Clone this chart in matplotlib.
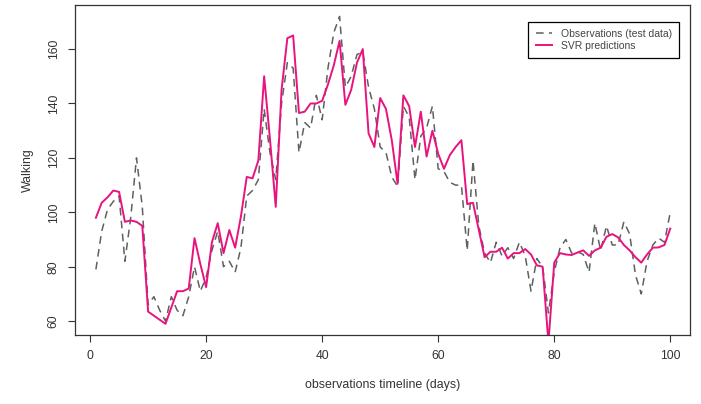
import matplotlib
matplotlib.use('Agg')
import matplotlib.pyplot as plt

plt.rcParams['font.family'] = ['Liberation Sans', 'DejaVu Sans']

days = list(range(1, 101))

observed = [79, 93, 101, 104, 106, 82, 98, 120, 102, 66,
            69, 64, 60, 69, 64, 62, 69, 80, 71, 76,
            86, 93, 80, 82, 78, 87, 106, 108, 112, 138,
            122, 112, 140, 155, 153, 122, 133, 131, 143, 134,
            153, 166, 172, 146, 150, 158, 159, 146, 138, 124,
            122, 113, 109.5, 139, 135, 112, 128, 131, 139, 116,
            115, 111, 110, 110, 86, 119, 95, 85, 81.5, 89,
            84, 87, 83, 89, 84, 71, 83, 80, 63, 78,
            87, 90, 85, 85.5, 84.5, 78, 96, 86, 95, 88,
            88, 96.5, 92, 77, 70, 82, 88, 90.5, 89, 100]

svr_pred = [98, 103.5, 105.5, 108, 107.5, 96.5, 97, 96.5, 95, 63.5,
            62, 60.5, 59, 65, 71, 71, 72, 90.5, 81, 72.5,
            89, 96, 85, 93.5, 87, 98.5, 113, 112.5, 119, 150,
            127, 102, 145, 164, 165, 136.5, 137, 140, 140, 141,
            147, 154, 163, 139.5, 145, 155, 160, 129, 124, 142,
            138, 126.5, 110.5, 143, 139, 124, 137, 120.5, 130, 121.5,
            116, 121, 124, 126.5, 103, 103.5, 93.5, 83.5, 85.5, 85.5,
            87, 83, 85, 85, 86.5, 84.5, 80.5, 80, 52, 81.5,
            85, 84.5, 84.3, 85.2, 86, 84, 86, 87, 91, 92,
            90.8, 88, 86, 83.5, 81.5, 84.5, 87, 87.1, 88, 94]

x_ticks = [0, 20, 40, 60, 80, 100]
y_ticks = [60, 80, 100, 120, 140, 160]

fig = plt.figure(figsize=(7.01, 4.04), dpi=100)
ax = fig.add_axes([75 / 701, 1 - 335 / 404, 615 / 701, 330 / 404])

ax.plot(days, observed, color='#606060', lw=1.1, linestyle=(0, (5, 3.5)),
        label='Observations (test data)')
ax.plot(days, svr_pred, color='#e8137f', lw=1.4, label='SVR predictions')

ax.set_xlim(-2.6, 103.4)
ax.set_ylim(54.9, 176.2)
ax.set_xticks(x_ticks)
ax.set_yticks(y_ticks)
ax.set_yticklabels([str(v) for v in y_ticks], rotation=90, va='center')
ax.tick_params(direction='out', length=5, width=0.8, labelsize=8.7,
               colors='#333333', pad=6)
for s in ax.spines.values():
    s.set_linewidth(0.9)
    s.set_color('#333333')

ax.set_xlabel('observations timeline (days)', fontsize=8.9, labelpad=12, color='#333333')
ax.set_ylabel('Walking', fontsize=8.9, labelpad=10, color='#333333')

leg = ax.legend(loc='upper right', bbox_to_anchor=(0.982, 0.95), fontsize=7.5,
                fancybox=False, framealpha=1, edgecolor='black', handlelength=1.6,
                borderpad=0.7, labelspacing=0.2, handletextpad=0.8, borderaxespad=0)
leg.get_frame().set_linewidth(0.9)
for t in leg.get_texts():
    t.set_color('#444444')

fig.savefig('out.png', dpi=100)
